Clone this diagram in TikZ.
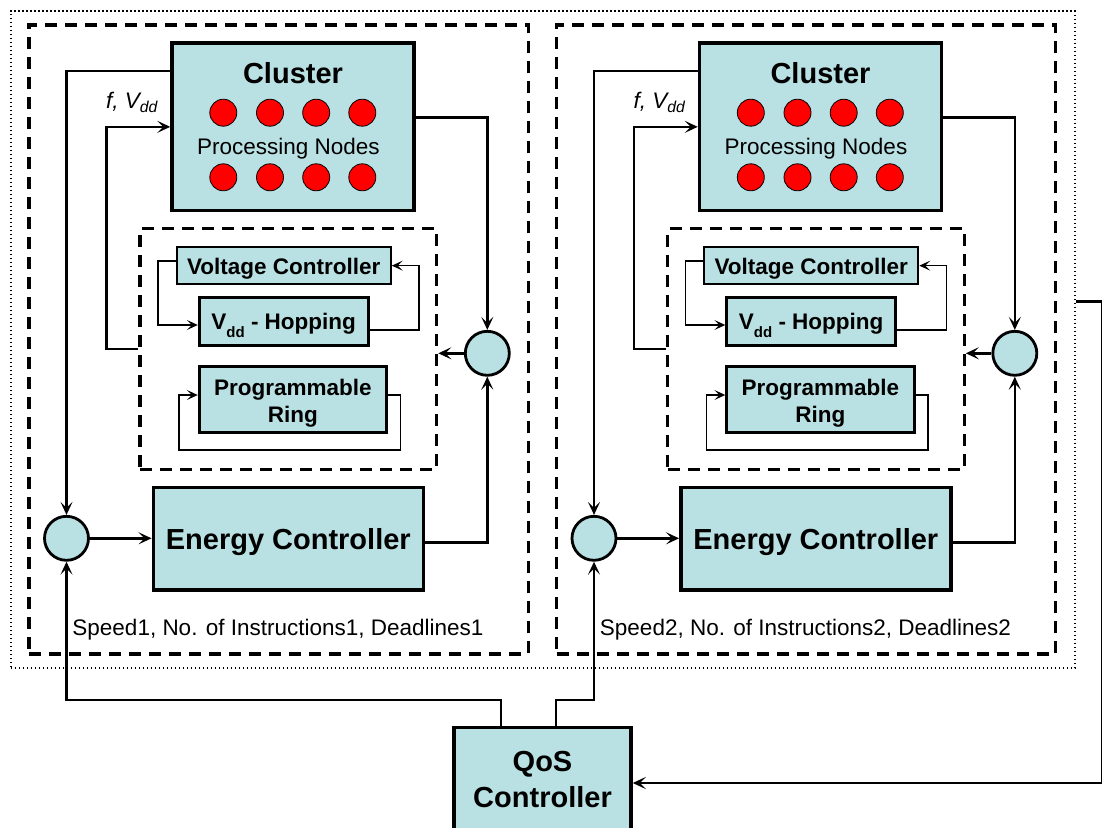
\documentclass[tikz,border=0pt]{standalone}
\usepackage{fontspec}
\setmainfont{Liberation Sans}
\usetikzlibrary{arrows.meta,calc}
\definecolor{tealc}{RGB}{185,224,227}
\newcommand\fbig{\fontsize{29}{34}\selectfont\bfseries}
\newcommand\fmed{\fontsize{22.5}{27}\selectfont}
\newcommand\fmedb{\fontsize{22.5}{27}\selectfont\bfseries}
\begin{document}
\begin{tikzpicture}[x=1pt,y=-1pt,
  box/.style={draw, fill=tealc, line width=3pt, inner sep=0pt},
  sumc/.style={circle, draw, fill=tealc, line width=2.8pt, minimum size=44pt, inner sep=0pt},
  pnode/.style={circle, draw, fill=red, line width=0.8pt, minimum size=27pt, inner sep=0pt},
  dbox/.style={draw, dash pattern=on 12pt off 8pt, line width=3.2pt, inner sep=0pt},
  dotbox/.style={draw, dash pattern=on 1.4pt off 2.6pt, line width=2.2pt, inner sep=0pt},
  conn/.style={line width=2.6pt},
  tconn/.style={line width=1.5pt},
  tip/.style={-{Stealth[length=13pt,width=12pt,inset=6pt]}},
  ttip/.style={-{Stealth[length=11pt,width=10pt,inset=5pt]}},
  txt/.style={inner sep=0pt, anchor=base},
]
\useasboundingbox (0,0) rectangle (1102,827);

\node[dotbox, minimum width=1064pt, minimum height=657pt] (dot) at (542.7,339.5) {};

\foreach \i/\dx in {1/0pt,2/527.5pt}{
\begin{scope}[xshift=\dx]
  \node[dbox, minimum width=499.3pt, minimum height=629pt] (ob\i) at (278.65,339.5) {};
  \node[dbox, minimum width=296.7pt, minimum height=240.6pt] (ib\i) at (288.35,349) {};
  % cluster
  \node[box, line width=3.5pt, minimum width=242pt, minimum height=167.7pt] (cl\i) at (293,126.85) {};
  \node[txt, font=\fbig] (clt\i) at (293,83.3) {Cluster};
  \node[txt, font=\fmed] (pnt\i) at (288.5,154) {Processing Nodes};
  \foreach \k/\px in {1/223.3,2/270,3/316.2,4/362.3}{
    \node[pnode] (pa\i\k) at (\px,112.7) {};
    \node[pnode] (pb\i\k) at (\px,177.3) {};
  }
  \node[txt, font=\fmed\itshape] (fv\i) at (132,108) {f, V\textsubscript{dd}};
  % inner controllers
  \node[box, line width=2.2pt, minimum width=214pt, minimum height=37.3pt] (vc\i) at (283.7,265.65) {};
  \node[txt, font=\fmedb] (vct\i) at (283.8,274) {Voltage Controller};
  \node[box, minimum width=169pt, minimum height=47.7pt] (vh\i) at (283.8,321.15) {};
  \node[txt, font=\fmedb] (vht\i) at (283.7,329.3) {V\raisebox{-0.35em}{\fontsize{15}{15}\selectfont dd} - Hopping};
  \node[box, minimum width=187.4pt, minimum height=66pt] (pr\i) at (293,399.7) {};
  \node[txt, font=\fmedb] (prta\i) at (292.8,395.3) {Programmable};
  \node[txt, font=\fmedb] (prtb\i) at (292.8,422) {Ring};
  % energy controller and summing points
  \node[box, line width=3.5pt, minimum width=270pt, minimum height=102.3pt] (ec\i) at (288.3,538.85) {};
  \node[txt, font=\fbig] (ect\i) at (288.3,549.3) {Energy Controller};
  \node[sumc] (sa\i) at (66.5,538.3) {};
  \node[sumc] (sb\i) at (487.3,353.3) {};
  \node[txt, font=\fmed] (sp\i) at (278,635) {Speed\i, No. of Instructions\i, Deadlines\i};
  % connectors
  \draw[conn,tip] (cl\i.west |- 0,71) -| (sa\i.north);
  \draw[conn,tip] (ib\i.west) -- ++(-32,0) |- (cl\i.west);
  \draw[conn,tip] (cl\i.east |- 0,117.3) -| (sb\i.north);
  \draw[conn,tip] (sb\i.west) -- (sb\i.west -| ib\i.east);
  \draw[conn,tip] (ec\i.east |- 0,542.7) -| (sb\i.south);
  \draw[conn,tip] (sa\i.east) -- (sa\i.east -| ec\i.west);
  \draw[tconn,ttip] (vc\i.west |- 0,261) -- ++(-17.7,0) |- (vh\i.west |- 0,325);
  \draw[tconn,ttip] (vh\i.east |- 0,330) -- ++(49.4,0) |- (vc\i.east);
  \draw[tconn,ttip] (pr\i.east |- 0,395) -- ++(12.3,0) |- ++(-221.7,55) |- (pr\i.west |- 0,395);
\end{scope}
}

% QoS controller
\node[box, line width=3.5pt, minimum width=177pt, minimum height=103.3pt] (qos) at (542.5,779.35) {};
\node[txt, font=\fbig] (qost) at (542.5,771.5) {QoS};
\node[txt, font=\fbig] (qosc) at (542.5,807.7) {Controller};

\draw[conn,tip] (qos.north -| 501,0) |- (sa1.south |- 0,700) -- (sa1.south);
\draw[conn,tip] (qos.north -| 556,0) |- (sa2.south |- 0,700) -- (sa2.south);
\draw[conn,tip] (dot.east |- 0,301.7) -- ++(26.5,0) |- (qos.east |- 0,783);
\end{tikzpicture}
\end{document}
